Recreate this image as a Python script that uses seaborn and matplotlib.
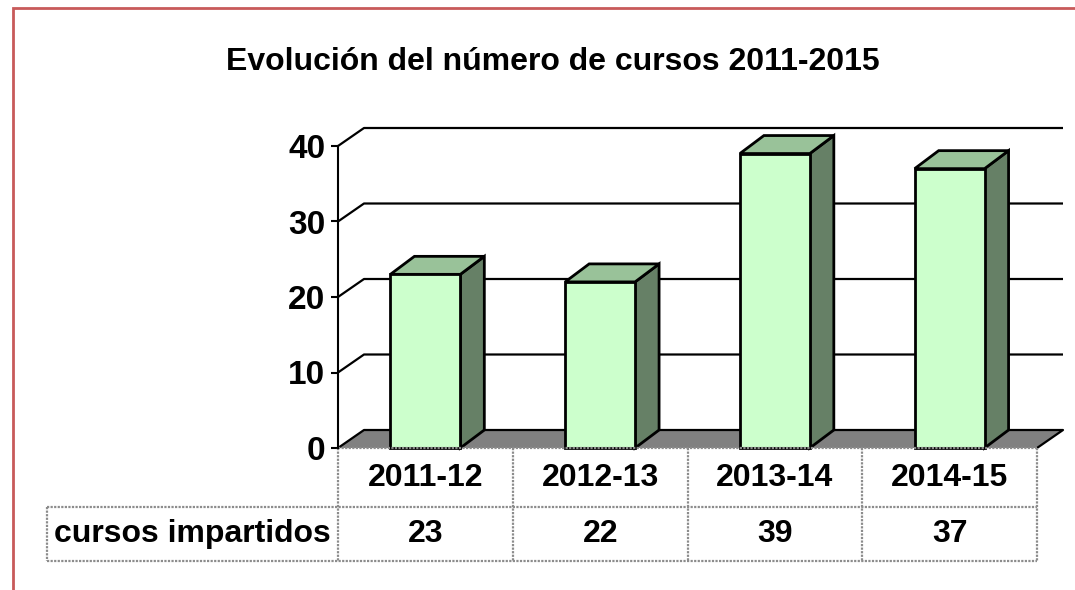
import matplotlib
matplotlib.use('Agg')
import matplotlib.pyplot as plt
import matplotlib.transforms as mtransforms
from matplotlib.patches import Polygon, Rectangle
import seaborn as sns

categories = ["2011-12", "2012-13", "2013-14", "2014-15"]
values = [23, 22, 39, 37]
row_label = "cursos impartidos"
title = "Evolución del número de cursos 2011-2015"
yticks = [0, 10, 20, 30, 40]

FRONT = "#CCFFCC"
TOP = "#99C299"
SIDE = "#668066"
FLOOR = "#808080"
TABLE_LINE = "#8C8C8C"

sns.set_theme(style="white")
plt.rcParams['font.family'] = ['Liberation Sans', 'DejaVu Sans']
plt.rcParams['text.color'] = 'black'
plt.rcParams['ytick.labelcolor'] = 'black'

fig = plt.figure(figsize=(10.75, 5.9), dpi=100)
ax = fig.add_axes([338 / 1075, 142 / 590, 699 / 1075, 302 / 590])

sns.barplot(x=categories, y=values, color=FRONT, width=0.4, saturation=1,
            edgecolor="black", linewidth=2, ax=ax, zorder=4)
ax.set_xlim(-0.5, 3.5)
ax.set_ylim(0, 40)
ax.set_xticks([])
ax.set_yticks(yticks)
ax.set_yticklabels([str(t) for t in yticks], fontsize=24, fontweight="bold",
                   color="black")
ax.tick_params(axis="y", direction="out", length=5, width=1.5, pad=4,
               left=True, color="black")
ax.set_xlabel("")
ax.set_ylabel("")
for side in ["top", "right", "bottom"]:
    ax.spines[side].set_visible(False)
ax.spines["left"].set_color("black")
ax.spines["left"].set_linewidth(1.5)
ax.spines["left"].set_zorder(6)


def shifted(x, y, dx, dy):
    # move a data point by a pixel offset (dx right, dy up)
    px, py = ax.transData.transform((x, y))
    return tuple(ax.transData.inverted().transform((px + dx, py + dy)))


# back wall gridlines and floor
WALL_DX, WALL_DY = 26, 18
for t in yticks[1:]:
    p0 = (-0.5, t)
    p1 = shifted(-0.5, t, WALL_DX, WALL_DY)
    p2 = shifted(3.5, t, WALL_DX, WALL_DY)
    ax.plot([p0[0], p1[0], p2[0]], [p0[1], p1[1], p2[1]], color="black",
            lw=1.6, zorder=1, clip_on=False, solid_capstyle="butt")

fl = [(-0.5, 0), (3.5, 0), shifted(3.5, 0, WALL_DX, WALL_DY),
      shifted(-0.5, 0, WALL_DX, WALL_DY)]
ax.add_patch(Polygon(fl, closed=True, facecolor=FLOOR, edgecolor="none",
                     zorder=2, clip_on=False))
ax.plot([fl[0][0], fl[3][0], fl[2][0], fl[1][0]],
        [fl[0][1], fl[3][1], fl[2][1], fl[1][1]],
        color="black", lw=1.6, zorder=2.5, clip_on=False)

# 3d faces of the bars
BAR_DX, BAR_DY = 24, 18
for bar in ax.patches:
    if not isinstance(bar, Rectangle) or bar.get_facecolor()[:3] != matplotlib.colors.to_rgb(FRONT):
        continue
    x0 = bar.get_x()
    x1 = x0 + bar.get_width()
    h = bar.get_height()
    side_face = [(x1, 0), (x1, h), shifted(x1, h, BAR_DX, BAR_DY),
                 shifted(x1, 0, BAR_DX, BAR_DY)]
    top_face = [(x0, h), (x1, h), shifted(x1, h, BAR_DX, BAR_DY),
                shifted(x0, h, BAR_DX, BAR_DY)]
    ax.add_patch(Polygon(side_face, closed=True, facecolor=SIDE,
                         edgecolor="black", lw=2, zorder=3.5, clip_on=False))
    ax.add_patch(Polygon(top_face, closed=True, facecolor=TOP,
                         edgecolor="black", lw=2, zorder=3.5, clip_on=False,
                         joinstyle="miter"))
    bar.set_clip_on(False)

# data table under the chart
blend = mtransforms.blended_transform_factory(ax.transData, ax.transAxes)
row1, row2 = -59 / 302, -113 / 302
label_left = -0.5 - 291 / 174.75
dotted = dict(color=TABLE_LINE, lw=1.6, ls=(0, (1, 0.6)), transform=blend,
              clip_on=False, zorder=5)
ax.plot([-0.5, 3.5], [0, 0], **dotted)
ax.plot([label_left, 3.5], [row1, row1], **dotted)
ax.plot([label_left, 3.5], [row2, row2], **dotted)
for i in range(len(categories) + 1):
    ax.plot([i - 0.5, i - 0.5], [0, row2], **dotted)
ax.plot([label_left, label_left], [row1, row2], **dotted)

for i, (cat, val) in enumerate(zip(categories, values)):
    ax.text(i, row1 / 2, cat, transform=blend, ha="center", va="center",
            fontsize=23, fontweight="bold", color="black")
    ax.text(i, (row1 + row2) / 2, str(val), transform=blend, ha="center",
            va="center", fontsize=23, fontweight="bold", color="black")
ax.text((label_left - 0.5) / 2, (row1 + row2) / 2, row_label, transform=blend,
        ha="center", va="center", fontsize=23, fontweight="bold", color="black")

fig.text(553 / 1075, 1 - 62 / 590, title, ha="center", va="center",
         fontsize=23, fontweight="bold", color="black")

# red frame of the chart area
fig.patches.append(Rectangle((13 / 1075, -0.1), 1.2, 1 - 8 / 590 + 0.1,
                             transform=fig.transFigure, fill=False,
                             edgecolor="#C85A5A", lw=2, zorder=10))

fig.savefig("out.png", dpi=100)
